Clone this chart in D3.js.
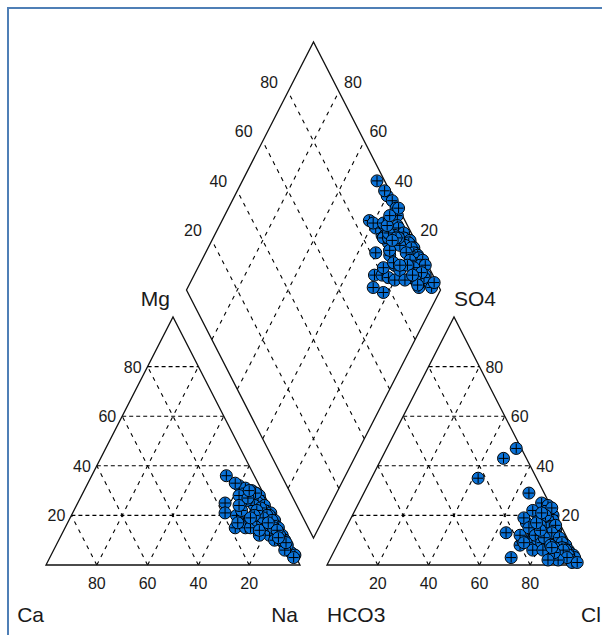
<!DOCTYPE html>
<html lang="en">
<head>
<meta charset="utf-8">
<title>Piper diagram</title>
<script src="https://cdn.jsdelivr.net/npm/d3@7"></script>
<style>
	body { margin: 0; background: #fff; }
	text { font-family: "Liberation Sans", Arial, sans-serif; fill: #1a1a1a; }
</style>
</head>
<body>
<script>
// cations, % meq (Na = 100 - Ca - Mg)
var ca  = [11,8,6,4,3,9,5, 2,3,4,2,3,1,2,4,1,3,2,1,3,2,1,2,1,6,7,5,8,10, 17,19,18,15,14,12,11,9,7,6,5, 14,10,12,8,9,7,4,16,3,5, 1,2,0,1,2,3,1,2, 4,3,5,2,6,3,4,2,8,10,12,7,5,1,2,3];
var mg  = [36,32,31,30,29,33,28, 28,26,25,24,22,21,20,19,18,17,16,15,14,13,12,11,10,24,21,18,26,28, 25,21,15,20,17,22,18,16,14,12,10, 15,12,15,18,14,20,16,17,29,22, 5,7,4,8,9,6,3,10, 23,20,19,18,22,15,17,12,20,19,24,27,30,9,14,11];
// anions, % meq (HCO3 = 100 - SO4 - Cl)
var so4 = [25,22,24,20,47,18,23, 18,15,20,14,12,16,10,13,8,11,9,6,7,5,4,6,3,10,8,12,14,11, 9,7,10,13,6,8,5,7,4,3,5, 35,13,3,8,10,12,6,9,43,29, 4,2,1,6,3,2,1,5, 17,19,15,12,20,16,9,11,6,14,17,22,21,8,2,7];
var cl  = [72,76,75,79,51,80,77, 78,80,76,83,84,82,87,82,90,86,88,92,89,93,95,91,96,79,80,75,74,76, 77,80,78,78,84,84,88,86,90,91,89, 42,64,71,72,72,70,78,73,48,65, 93,95,96,90,93,90,98,87, 70,68,72,76,73,76,80,80,82,77,74,70,74,84,86,85];
var ticks = [20, 40, 60, 80];

var w = 602, h = 635;
var side = 254, tall = 248, gap = 27;
var baseY = 565, leftX = 46;
var rightX = leftX + side + gap;

// percent -> pixels
var px = d3.scaleLinear().domain([0, 100]).range([0, side]);
var py = d3.scaleLinear().domain([0, 100]).range([0, tall]);

function catPos(c, m) {
	var na = 100 - c - m;
	return [leftX + px(na) + px(m) / 2, baseY - py(m)];
}
function anPos(s, c) {
	return [rightX + px(c) + px(s) / 2, baseY - py(s)];
}
var dB = [leftX + side + gap / 2, baseY - gap];
function diaPos(caMg, so4Cl) {
	return [dB[0] + px(so4Cl) / 2 - px(caMg) / 2, dB[1] - py(so4Cl) - py(caMg)];
}

var svg = d3.select("body").append("svg")
	.attr("width", w)
	.attr("height", h);

// frame
svg.append("rect")
	.attr("x", 8).attr("y", 8)
	.attr("width", 700).attr("height", 700)
	.attr("fill", "none")
	.attr("stroke", "#4f7fb6")
	.attr("stroke-width", 2);

var line = d3.line();

function dashed(a, b, dash) {
	svg.append("path")
		.attr("d", line([a, b]))
		.attr("fill", "none")
		.attr("stroke", "#000")
		.attr("stroke-width", 1.1)
		.attr("stroke-dasharray", dash);
}

// grids
ticks.forEach(function(t) {
	// left triangle
	dashed(catPos(100 - t, t), catPos(0, t), "4,3");
	dashed(catPos(t, 0), catPos(t, 100 - t), "4,5");
	dashed(catPos(100 - t, 0), catPos(0, 100 - t), "4,5");
	// right triangle
	dashed(anPos(t, 0), anPos(t, 100 - t), "4,3");
	dashed(anPos(0, t), anPos(100 - t, t), "4,5");
	dashed(anPos(0, 100 - t), anPos(100 - t, 0), "4,5");
	// diamond
	dashed(diaPos(t, 0), diaPos(t, 100), "4,5");
	dashed(diaPos(0, t), diaPos(100, t), "4,5");
});

// outlines
var shapes = [
	[catPos(100, 0), catPos(0, 0), catPos(0, 100)],
	[anPos(0, 0), anPos(0, 100), anPos(100, 0)],
	[diaPos(0, 0), diaPos(0, 100), diaPos(100, 100), diaPos(100, 0)]
];
svg.selectAll("path.outline")
	.data(shapes)
	.enter()
	.append("path")
	.attr("class", "outline")
	.attr("d", function(d) { return line(d) + "Z"; })
	.attr("fill", "none")
	.attr("stroke", "#111")
	.attr("stroke-width", 1.3);

// tick labels
function label(x, y, txt, anchor, size) {
	svg.append("text")
		.attr("x", x).attr("y", y)
		.attr("text-anchor", anchor)
		.attr("font-size", size + "px")
		.text(txt);
}
ticks.forEach(function(t) {
	var p = catPos(100 - t, t);
	label(p[0] - 6, p[1] + 6, t, "end", 16);
	p = catPos(t, 0);
	label(p[0], baseY + 24, t, "middle", 16);
	p = anPos(t, 100 - t);
	label(p[0] + 6, p[1] + 6, t, "start", 16);
	p = anPos(0, t);
	label(p[0], baseY + 24, t, "middle", 16);
	p = diaPos(100, t);
	label(p[0] - 19, p[1] - 4, t, "middle", 16);
	p = diaPos(t, 100);
	label(p[0] + 14, p[1] - 4, t, "middle", 16);
});

// corner labels
label(catPos(100, 0)[0] - 2, baseY + 57, "Ca", "end", 21);
label(catPos(0, 0)[0] - 2, baseY + 57, "Na", "end", 21);
label(catPos(0, 100)[0] - 3, catPos(0, 100)[1] - 11, "Mg", "end", 21);
label(anPos(0, 0)[0], baseY + 57, "HCO3", "start", 21);
label(anPos(0, 100)[0], baseY + 57, "Cl", "start", 21);
label(anPos(100, 0)[0], anPos(100, 0)[1] - 11, "SO4", "start", 21);

// samples
var idx = d3.range(ca.length);
var pts = [];
idx.forEach(function(i) {
	pts.push(catPos(ca[i], mg[i]));
	pts.push(anPos(so4[i], cl[i]));
	pts.push(diaPos(ca[i] + mg[i], so4[i] + cl[i]));
});

var r = 6;
var marks = svg.selectAll("g.mark")
	.data(pts)
	.enter()
	.append("g")
	.attr("class", "mark")
	.attr("transform", function(d) { return "translate(" + d[0] + "," + d[1] + ")"; });

marks.append("circle")
	.attr("r", r)
	.attr("fill", "#0a72d8")
	.attr("stroke", "#000")
	.attr("stroke-width", 1);

marks.append("path")
	.attr("d", "M" + (-r + 1) + ",0H" + (r - 1) + "M0," + (-r + 1) + "V" + (r - 1))
	.attr("stroke", "#000")
	.attr("stroke-width", 1);
</script>
</body>
</html>
